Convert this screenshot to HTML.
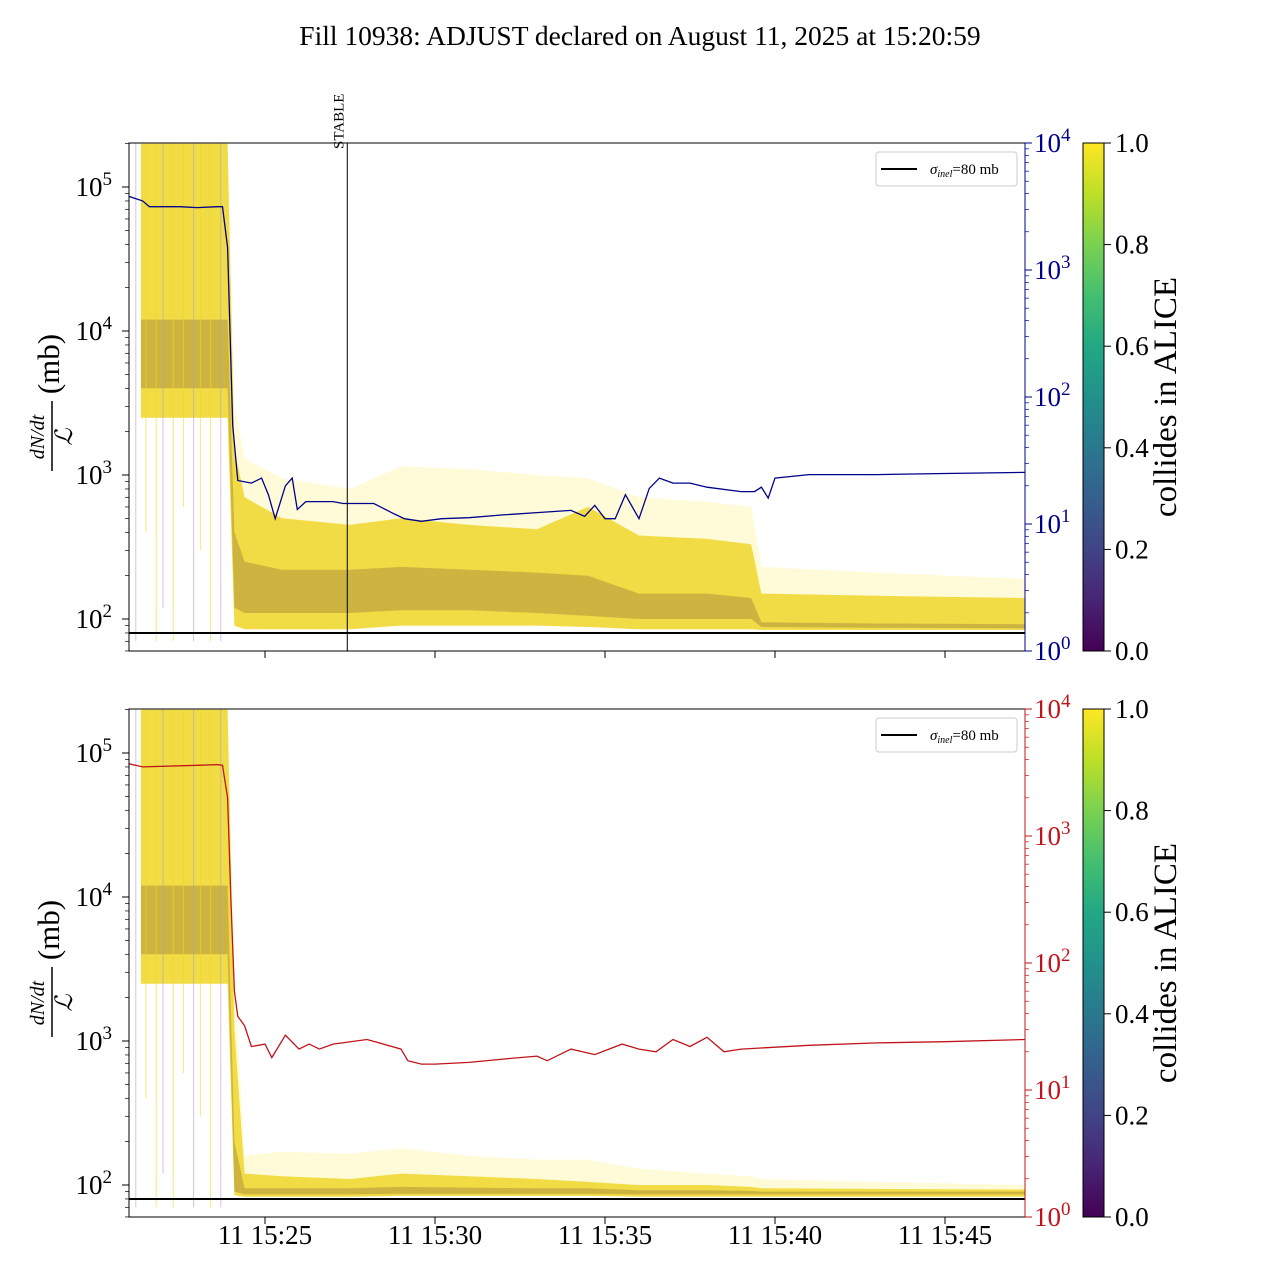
<!DOCTYPE html>
<html><head><meta charset="utf-8"><style>
html,body{margin:0;padding:0;background:#fff;}
svg{display:block;font-family:"Liberation Serif","DejaVu Serif",serif;}
</style></head><body>
<svg id="chart" width="1280" height="1280" viewBox="0 0 1280 1280">
<defs>
<linearGradient id="viridis" x1="0" y1="1" x2="0" y2="0">
<stop offset="0" stop-color="#440154"/><stop offset="0.1" stop-color="#482475"/><stop offset="0.2" stop-color="#414487"/><stop offset="0.3" stop-color="#355f8d"/><stop offset="0.4" stop-color="#2a788e"/><stop offset="0.5" stop-color="#21918c"/><stop offset="0.6" stop-color="#22a884"/><stop offset="0.7" stop-color="#44bf70"/><stop offset="0.8" stop-color="#7ad151"/><stop offset="0.9" stop-color="#bddf26"/><stop offset="1" stop-color="#fde725"/>
</linearGradient>
<clipPath id="clipTop"><rect x="129" y="143" width="896" height="508"/></clipPath>
<clipPath id="clipBot"><rect x="129" y="709" width="896" height="508"/></clipPath>
</defs>
<text x="640" y="45" text-anchor="middle" font-size="27.5">Fill 10938: ADJUST declared on August 11, 2025 at 15:20:59</text>
<g id="top"></g>
<g id="bot"></g>
</svg>
<script>
// ---- data ----
const bandTimes = [0.35, 2.9, 3.1, 3.4, 4.5, 6.5, 8, 10, 12, 13.5, 15, 17, 18.3, 18.6, 22, 26.35];
const topOuterHigh = [2e5, 2e5, 3000, 1300, 950, 800, 1150, 1100, 1000, 950, 700, 650, 600, 230, 210, 190];
const topYellowHigh = [2e5, 2e5, 1500, 700, 500, 450, 500, 450, 420, 600, 380, 360, 330, 150, 145, 140];
const topYellowLow = [2500, 2500, 90, 85, 85, 85, 90, 90, 90, 88, 85, 85, 85, 84, 84, 84];
const topPurpleHigh = [12000, 12000, 400, 250, 220, 220, 230, 220, 210, 200, 150, 150, 140, 95, 93, 92];
const topPurpleLow = [4000, 4000, 120, 110, 110, 110, 115, 115, 110, 105, 100, 100, 100, 88, 87, 86];
const botOuterHigh = [2e5, 2e5, 3000, 160, 170, 165, 180, 160, 150, 150, 130, 120, 115, 110, 105, 100];
const botYellowHigh = [2e5, 2e5, 1200, 120, 115, 110, 120, 115, 110, 105, 100, 100, 97, 95, 94, 93];
const botYellowLow = [2500, 2500, 85, 83, 83, 83, 84, 84, 84, 84, 83, 83, 83, 83, 83, 83];
const botPurpleHigh = [12000, 12000, 200, 95, 95, 95, 97, 96, 95, 95, 92, 92, 91, 90, 90, 90];
const botPurpleLow = [4000, 4000, 90, 86, 86, 86, 87, 87, 87, 87, 86, 86, 86, 86, 86, 86];
const spikeTimes = [0.2, 0.5, 0.8, 1.0, 1.3, 1.6, 1.9, 2.1, 2.4, 2.7];
const spikeLows = [70, 400, 70, 120, 70, 600, 70, 300, 70, 70];
const blueT = [0, 0.4, 0.6, 1.5, 2.0, 2.6, 2.75, 2.9, 3.05, 3.2, 3.6, 3.9, 4.1, 4.3, 4.6, 4.8, 4.95, 5.2, 5.5, 6.0, 6.3, 6.6, 7.2, 7.8, 8.1, 8.6, 9.2, 10, 11, 12, 13, 13.4, 13.7, 14, 14.3, 14.6, 15, 15.3, 15.6, 16, 16.5, 17, 18, 18.4, 18.6, 18.8, 19, 20, 22, 24, 26.35];
const blueV = [3800, 3500, 3150, 3150, 3100, 3150, 3150, 1500, 60, 22, 21, 23, 17, 11, 20, 23, 13, 15, 15, 15, 14.5, 14.5, 14.5, 12, 11, 10.5, 11, 11.2, 11.8, 12.3, 12.8, 11.5, 14, 11, 11, 17, 11, 19, 23, 21, 21, 19.5, 18, 18, 19.5, 16, 23, 24.5, 24.5, 25, 25.5];
const redT = [0, 0.4, 2.0, 2.6, 2.75, 2.9, 3.0, 3.1, 3.2, 3.4, 3.6, 4.0, 4.2, 4.6, 5.0, 5.3, 5.6, 6.0, 7.0, 8.0, 8.2, 8.6, 9.0, 10, 11, 12, 12.3, 13, 13.7, 14.5, 15.0, 15.5, 16, 16.5, 17, 17.5, 18, 20, 22, 24, 26.35];
const redV = [3700, 3500, 3600, 3650, 3600, 2000, 300, 60, 38, 32, 22, 23, 18, 27, 21, 23, 21, 23, 25, 21, 17, 16, 16, 16.5, 17.5, 18.5, 17, 21, 19, 23, 21, 20, 25, 22, 26, 20, 21, 22.5, 23.5, 24, 25];
const colorbarTicks = ["0.0", "0.2", "0.4", "0.6", "0.8", "1.0"];
const xTickLabels = ["11 15:25", "11 15:30", "11 15:35", "11 15:40", "11 15:45"];
const xTickMinutes = [4, 9, 14, 19, 24];
const stableMinute = 6.42;
const sigmaInel = 80;
// ---- helpers ----
const NS = "http://www.w3.org/2000/svg";
function mk(tag, attrs, parent) { const e = document.createElementNS(NS, tag); for (const k in attrs) e.setAttribute(k, attrs[k]); parent.appendChild(e); return e; }
const X0 = 129, X1 = 1025, TMIN = 0, TMAX = 26.353;
function xs(t) { return X0 + (t - TMIN) / (TMAX - TMIN) * (X1 - X0); }
function makePanel(g, top, rightColor, clip, lineT, lineV, outerH, yelH, yelL, purH, purL, showXLabels) {
  const bottom = top + 508;
  const yl = v => top + 44 + (5 - Math.log10(v)) * 144;
  const yr = v => top + (4 - Math.log10(v)) * 127;
  const body = mk("g", {"clip-path": "url(#" + clip + ")"}, g);
  function band(hi, lo, fill, op, name) {
    let d = "";
    bandTimes.forEach((t, i) => { d += (i ? "L" : "M") + xs(t).toFixed(1) + "," + yl(hi[i]).toFixed(1); });
    for (let i = bandTimes.length - 1; i >= 0; i--) d += "L" + xs(bandTimes[i]).toFixed(1) + "," + yl(lo[i]).toFixed(1);
    const p = mk("path", {d: d + "Z", fill: fill, "fill-opacity": op}, body);
    
    
  }
  band(outerH, yelL, "#fde725", 0.18, "bundle-outer-envelope");
  band(yelH, yelL, "#efd520", 0.8, "bundle-yellow-band");
  band(purH, purL, "#8a6a3a", 0.35, "bundle-core-band");
  spikeTimes.forEach((t, i) => {
    const l = mk("line", {x1: xs(t), x2: xs(t), y1: top, y2: yl(spikeLows[i]), stroke: i % 3 ? "#f0d820" : "#b0a0c0", "stroke-width": 1, "stroke-opacity": 0.6}, body);
    
    
  });
  const s = mk("line", {x1: X0, x2: X1, y1: yl(sigmaInel), y2: yl(sigmaInel), stroke: "#000", "stroke-width": 2}, body);
  
  
  const pts = lineT.map((t, i) => xs(t).toFixed(1) + "," + yr(lineV[i]).toFixed(1)).join(" ");
  const pl = mk("polyline", {points: pts, fill: "none", stroke: rightColor, "stroke-width": 1.3}, body);
  
  
  const fr = mk("rect", {x: X0, y: top, width: X1 - X0, height: 508, fill: "none", stroke: "#000", "stroke-width": 1}, g);
  
  
  mk("line", {x1: X1, x2: X1, y1: top, y2: bottom, stroke: rightColor, "stroke-width": 1}, g);
  for (let e = 1; e <= 5; e++) for (let m = 1; m <= 9; m++) {
    const v = m * Math.pow(10, e), y = yl(v);
    if (y < top - 0.5 || y > bottom + 0.5) continue;
    mk("line", {x1: X0 - (m === 1 ? 7 : 4), x2: X0, y1: y, y2: y, stroke: "#000", "stroke-width": m === 1 ? 1 : 0.7}, g);
    if (m === 1 && e >= 2) {
      const t = mk("text", {x: 112, y: y + 9, "text-anchor": "end", "font-size": 27}, g);
      t.textContent = "10";
      const sp = mk("tspan", {dy: -11, "font-size": 19}, t); sp.textContent = e;
      
      
    }
  }
  for (let e = 0; e <= 4; e++) for (let m = 1; m <= 9; m++) {
    const v = m * Math.pow(10, e), y = yr(v);
    if (y < top - 0.5 || y > bottom + 0.5) continue;
    mk("line", {x1: X1, x2: X1 + (m === 1 ? 7 : 4), y1: y, y2: y, stroke: rightColor, "stroke-width": m === 1 ? 1 : 0.7}, g);
    if (m === 1) {
      const t = mk("text", {x: 1034, y: y + 9, "font-size": 27, fill: rightColor}, g);
      t.textContent = "10";
      const sp = mk("tspan", {dy: -11, "font-size": 19}, t); sp.textContent = e;
      
      
    }
  }
  xTickMinutes.forEach((m, i) => {
    mk("line", {x1: xs(m), x2: xs(m), y1: bottom, y2: bottom + 7, stroke: "#000"}, g);
    if (showXLabels) {
      const t = mk("text", {x: xs(m), y: bottom + 27, "text-anchor": "middle", "font-size": 27}, g);
      t.textContent = xTickLabels[i];
      
      
    }
  });
  const lab = mk("g", {transform: "translate(50," + (top + 254) + ") rotate(-90)"}, g);
  
  
  const n = mk("text", {x: -40, y: -6, "text-anchor": "middle", "font-size": 20, "font-style": "italic"}, lab); n.textContent = "dN/dt";
  mk("line", {x1: -74, x2: -4, y1: 2, y2: 2, stroke: "#000", "stroke-width": 1.5}, lab);
  const dn = mk("text", {x: -40, y: 22, "text-anchor": "middle", "font-size": 24, "font-style": "italic"}, lab); dn.textContent = "ℒ";
  const mb = mk("text", {x: 33, y: 9, "text-anchor": "middle", "font-size": 31}, lab); mb.textContent = "(mb)";
  const lg = mk("g", {}, g);
  
  
  mk("rect", {x: 876, y: top + 9, width: 141, height: 34, rx: 3, fill: "#fff", stroke: "#ccc"}, lg);
  mk("line", {x1: 881, x2: 917, y1: top + 26, y2: top + 26, stroke: "#000", "stroke-width": 2}, lg);
  const lt = mk("text", {x: 930, y: top + 31, "font-size": 15}, lg);
  const s1 = mk("tspan", {"font-style": "italic"}, lt); s1.textContent = "σ";
  const s2 = mk("tspan", {"font-style": "italic", "font-size": 10, dy: 3}, lt); s2.textContent = "inel";
  const s3 = mk("tspan", {dy: -3}, lt); s3.textContent = "=80 mb";
  const cb = mk("rect", {x: 1083, y: top, width: 21, height: 508, fill: "url(#viridis)", stroke: "#000", "stroke-width": 1}, g);
  
  
  colorbarTicks.forEach((lbl, i) => {
    const y = bottom - i * 508 / 5;
    mk("line", {x1: 1104, x2: 1111, y1: y, y2: y, stroke: "#000"}, g);
    const t = mk("text", {x: 1115, y: y + 9, "font-size": 27}, g);
    t.textContent = lbl;
    
    
  });
  const ct = mk("text", {transform: "translate(1176," + (top + 254) + ") rotate(-90)", "text-anchor": "middle", "font-size": 33}, g);
  ct.textContent = "collides in ALICE";
  
  
}
const gt = document.getElementById("top"), gb = document.getElementById("bot");
makePanel(gt, 143, "#00008b", "clipTop", blueT, blueV, topOuterHigh, topYellowHigh, topYellowLow, topPurpleHigh, topPurpleLow, false);
makePanel(gb, 709, "#c0141c", "clipBot", redT, redV, botOuterHigh, botYellowHigh, botYellowLow, botPurpleHigh, botPurpleLow, true);
const sl = mk("line", {x1: xs(stableMinute), x2: xs(stableMinute), y1: 143, y2: 651, stroke: "#000", "stroke-width": 1}, gt);


const st = mk("text", {transform: "translate(" + (xs(stableMinute) - 4) + ",149) rotate(-90)", "font-size": 15}, gt);
st.textContent = "STABLE";


</script>
</body></html>
